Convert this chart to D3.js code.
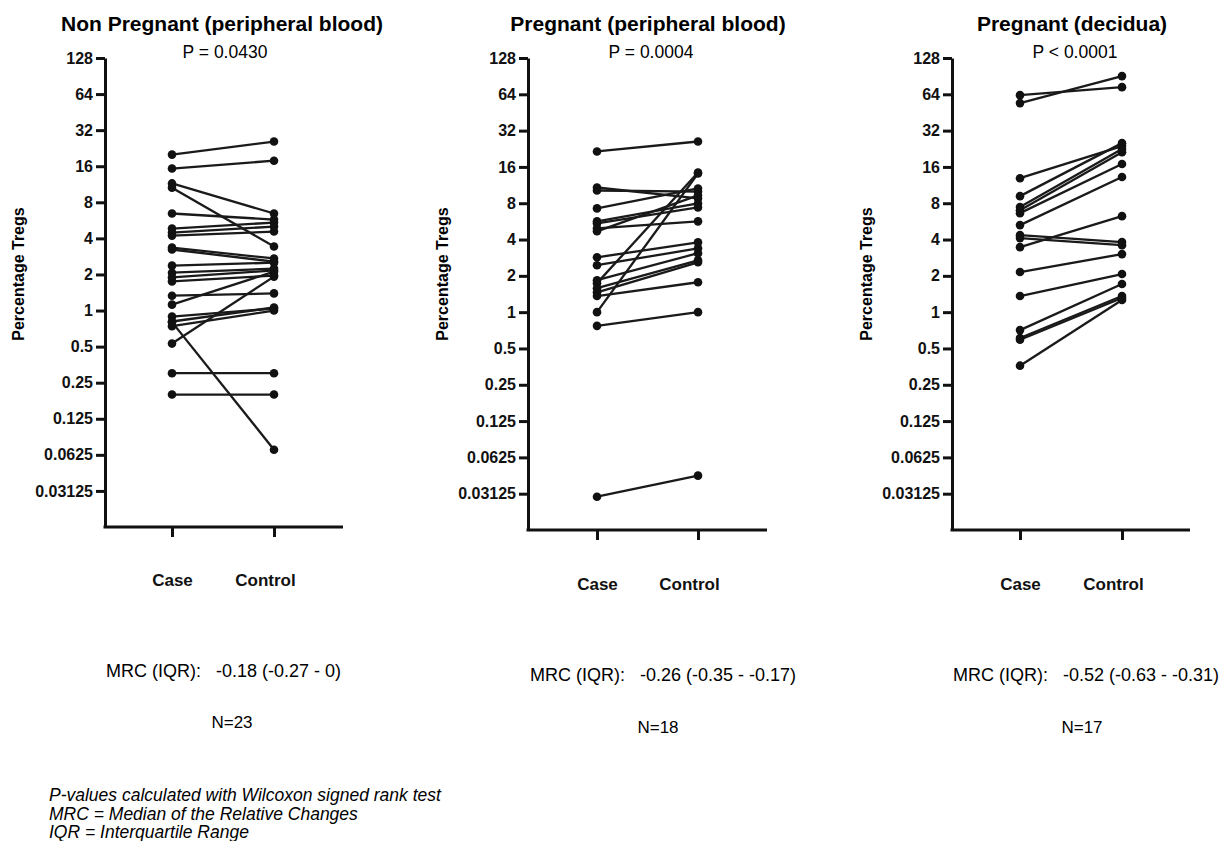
<!DOCTYPE html>
<html>
<head>
<meta charset="utf-8">
<script src="https://cdn.jsdelivr.net/npm/d3@7"></script>
<style>
  body { margin: 0; background: #fff; }
  svg { font-family: "Liberation Sans", Arial, sans-serif; }
  .axis path, .axis line { stroke: #111; stroke-width: 3px; }
  .axis text { font-weight: bold; font-size: 16px; fill: #111; }
  .xaxis text { font-size: 17px; }
</style>
</head>
<body>
<div id="chart"></div>
<script>
// groups on the x axis and log2 tick values
var groups = ["Case", "Control"];
var yTicks = [0.03125, 0.0625, 0.125, 0.25, 0.5, 1, 2, 4, 8, 16, 32, 64, 128];

var titles = ["Non Pregnant (peripheral blood)", "Pregnant (peripheral blood)", "Pregnant (decidua)"];
var pValues = ["P = 0.0430", "P = 0.0004", "P < 0.0001"];
var mrcTexts = ["MRC (IQR):   -0.18 (-0.27 - 0)", "MRC (IQR):   -0.26 (-0.35 - -0.17)", "MRC (IQR):   -0.52 (-0.63 - -0.31)"];
var nTexts = ["N=23", "N=18", "N=17"];
var footnotes = [
    "P-values calculated with Wilcoxon signed rank test",
    "MRC = Median of the Relative Changes",
    "IQR = Interquartile Range"
];

// percentage Tregs, paired by index (case[i] -> control[i])
var nonPregCase = [20.0, 15.3, 11.5, 10.6, 6.45, 4.83, 4.47, 4.22, 3.35, 3.23, 2.37, 2.07, 1.89, 1.75, 1.33, 1.12, 0.89, 0.74, 0.81, 0.80, 0.53, 0.30, 0.199];
var nonPregControl = [25.7, 17.8, 6.45, 3.42, 5.74, 5.42, 5.02, 4.56, 2.72, 2.56, 2.51, 2.24, 2.16, 1.96, 1.39, 2.11, 1.04, 1.0, 1.06, 0.069, 1.92, 0.30, 0.199];

var pregCase = [21.5, 10.8, 10.2, 7.25, 5.66, 5.45, 4.95, 4.68, 2.85, 2.45, 1.84, 1.74, 1.58, 1.46, 1.36, 1.0, 0.77, 0.0295];
var pregControl = [26.0, 8.77, 10.0, 10.6, 7.97, 7.39, 5.66, 9.28, 3.79, 3.38, 3.08, 14.4, 2.69, 2.59, 1.77, 14.1, 1.0, 0.0441];

var decCase = [63.0, 54.1, 12.9, 9.16, 7.43, 7.01, 6.62, 5.27, 4.35, 4.11, 3.46, 2.15, 1.36, 0.71, 0.61, 0.59, 0.36];
var decControl = [73.4, 90.6, 23.8, 25.2, 22.5, 21.2, 16.9, 13.2, 3.81, 3.59, 6.25, 3.03, 2.07, 1.71, 1.36, 1.31, 1.26];

var caseSeries = [nonPregCase, pregCase, decCase];
var controlSeries = [nonPregControl, pregControl, decControl];

var width = 1226, height = 841;
var svg = d3.select("#chart").append("svg").attr("width", width).attr("height", height);

// panel geometry
var panels = [
    { axisX: 105, endX: 343, caseX: 172, ctrlX: 274, top: 58, bottom: 527, titleX: 222, labelX: 18, mrcX: 106, mrcY: 677, nY: 728, capY: 586 },
    { axisX: 528, endX: 767, caseX: 597, ctrlX: 698, top: 58, bottom: 530, titleX: 648, labelX: 442, mrcX: 530, mrcY: 681, nY: 733, capY: 590 },
    { axisX: 952, endX: 1190, caseX: 1020, ctrlX: 1122, top: 58, bottom: 530, titleX: 1072, labelX: 866, mrcX: 953, mrcY: 681, nY: 733, capY: 590 }
];

panels.forEach(function (p, i) {
    var g = svg.append("g");
    var y = d3.scaleLog().base(2).domain([1 / 64, 128]).range([p.bottom, p.top]);
    var x = d3.scalePoint().domain(groups).range([p.caseX, p.ctrlX]);

    g.append("text").attr("x", p.titleX).attr("y", 31).attr("text-anchor", "middle")
        .style("font-size", "21px").style("font-weight", "bold").text(titles[i]);
    g.append("text").attr("x", p.titleX + 3).attr("y", 58).attr("text-anchor", "middle")
        .style("font-size", "17.5px").text(pValues[i]);

    var yAxis = d3.axisLeft(y).tickValues(yTicks).tickSize(9).tickSizeOuter(0).tickPadding(3)
        .tickFormat(function (d) { return String(d); });
    g.append("g").attr("class", "axis").attr("transform", "translate(" + p.axisX + ",0)").call(yAxis);

    g.append("line").attr("class", "xline")
        .attr("x1", p.axisX - 1.5).attr("x2", p.endX).attr("y1", p.bottom).attr("y2", p.bottom)
        .attr("stroke", "#111").attr("stroke-width", 3);

    var xAxis = d3.axisBottom(x).tickSize(10).tickPadding(p.capY - p.bottom - 22);
    var xg = g.append("g").attr("class", "axis xaxis").attr("transform", "translate(0," + p.bottom + ")").call(xAxis);
    xg.select(".domain").remove();
    xg.selectAll(".tick text").attr("dx", function (d) { return d === "Control" ? -9 : 0; });

    g.append("text").attr("transform", "translate(" + p.labelX + ",274) rotate(-90)")
        .attr("text-anchor", "middle").attr("dy", "0.35em")
        .style("font-size", "16px").style("font-weight", "bold").text("Percentage Tregs");

    var pairs = caseSeries[i].map(function (c, k) { return [c, controlSeries[i][k]]; });

    g.selectAll("line.pair").data(pairs).enter().append("line").attr("class", "pair")
        .attr("x1", x("Case")).attr("x2", x("Control"))
        .attr("y1", function (d) { return y(d[0]); })
        .attr("y2", function (d) { return y(d[1]); })
        .attr("stroke", "#1a1a1a").attr("stroke-width", 2.3);

    g.selectAll("circle.case").data(caseSeries[i]).enter().append("circle").attr("class", "case")
        .attr("cx", x("Case")).attr("cy", function (d) { return y(d); }).attr("r", 4.3).attr("fill", "#111");
    g.selectAll("circle.ctrl").data(controlSeries[i]).enter().append("circle").attr("class", "ctrl")
        .attr("cx", x("Control")).attr("cy", function (d) { return y(d); }).attr("r", 4.3).attr("fill", "#111");

    g.append("text").attr("x", p.mrcX).attr("y", p.mrcY).style("white-space", "pre")
        .style("font-size", "18px").text(mrcTexts[i]);
    g.append("text").attr("x", p.titleX + 10).attr("y", p.nY).attr("text-anchor", "middle")
        .style("font-size", "17px").text(nTexts[i]);
});

svg.append("g").selectAll("text").data(footnotes).enter().append("text")
    .attr("x", 49).attr("y", function (d, i) { return 801 + i * 18.5; })
    .style("font-size", "17.5px").style("font-style", "italic").text(function (d) { return d; });
</script>
</body>
</html>
